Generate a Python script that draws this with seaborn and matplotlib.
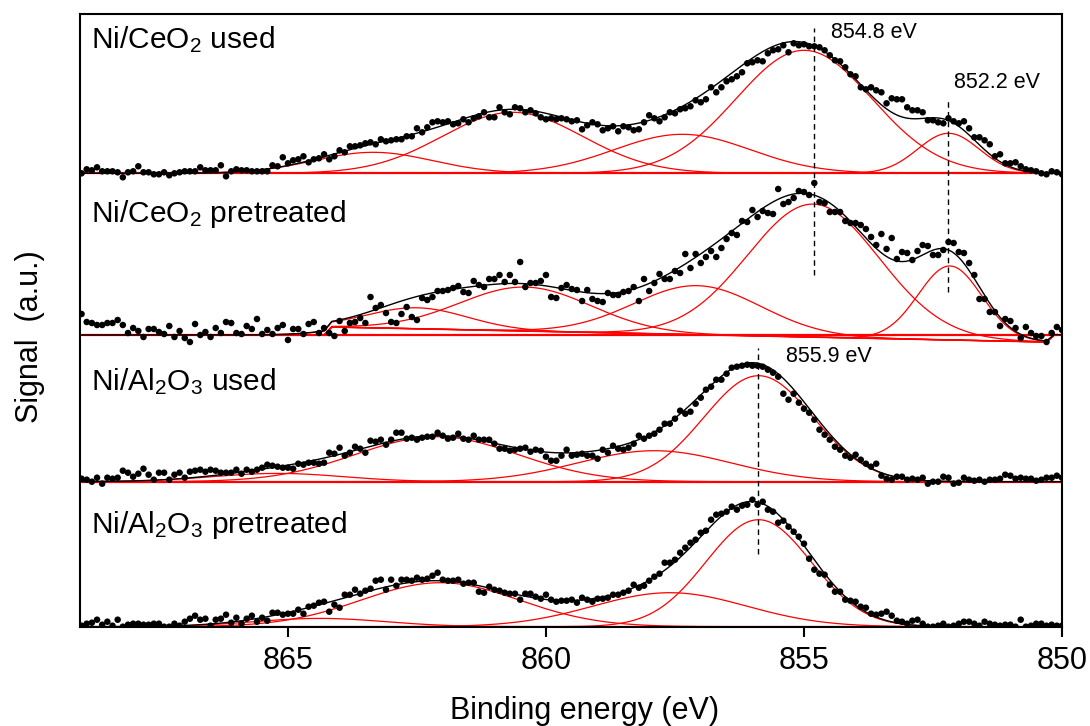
import numpy as np
import pandas as pd
import matplotlib
matplotlib.use('Agg')
import matplotlib.pyplot as plt
import seaborn as sns

# measured grid: 869 -> 850 eV, 0.1 eV step
energy_start, energy_stop, n_points = 869.0, 850.0, 191

# raw Ni 2p3/2 signal (a.u.), one value per grid point
ceo2_used = [0, 4, 3, 6, 2, 2, 2, 1, -4, 1,
             2, 7, 1, 1, -1, -1, 1, -2, 0, 1,
             2, 2, 2, 6, 3, 3, 3, 8, -3, 2,
             4, 3, 3, 2, 2, 2, 2, 8, 7, 16,
             10, 13, 14, 17, 11, 14, 15, 19, 14, 17,
             23, 21, 27, 27, 28, 30, 31, 29, 34, 32,
             33, 34, 34, 37, 37, 45, 41, 46, 51, 52,
             51, 52, 49, 50, 54, 51, 55, 57, 61, 56,
             56, 66, 61, 59, 66, 65, 61, 63, 60, 56,
             54, 55, 54, 55, 54, 52, 53, 44, 48, 51,
             49, 43, 45, 47, 42, 47, 46, 43, 44, 51,
             58, 55, 52, 56, 61, 60, 64, 65, 67, 73,
             71, 74, 86, 81, 86, 92, 94, 97, 101, 110,
             111, 113, 112, 120, 123, 124, 128, 121, 130, 128,
             129, 127, 127, 126, 123, 118, 113, 112, 106, 99,
             97, 86, 84, 86, 83, 81, 70, 75, 74, 74,
             66, 63, 63, 61, 53, 53, 51, 50, 55, 52,
             50, 52, 45, 36, 36, 33, 29, 17, 19, 10,
             10, 11, 7, 4, 3, 2, 0, -1, 2, 1, -1]

ceo2_pre = [21, 13, 12, 10, 10, 12, 12, 15, 10, 2,
            7, 4, -2, 6, 6, 3, 1, 9, -2, 4,
            -3, -7, 11, 0, 3, -2, 7, 2, 13, 12,
            2, 1, 9, 6, 16, 1, 5, 1, 7, 10,
            -5, 6, 6, 1, 11, 13, 2, 7, 2, -1,
            14, 4, 12, 13, 17, 12, 38, 27, 30, 22,
            13, 12, 21, 28, 18, 15, 37, 35, 38, 44,
            44, 45, 47, 49, 43, 42, 54, 50, 48, 56,
            56, 60, 53, 60, 53, 73, 48, 52, 52, 54,
            60, 38, 37, 47, 50, 46, 45, 34, 45, 36,
            34, 33, 42, 40, 40, 43, 44, 48, 34, 56,
            44, 52, 61, 56, 56, 64, 62, 81, 67, 81,
            72, 78, 84, 78, 87, 96, 102, 100, 114, 113,
            125, 118, 124, 122, 121, 146, 131, 133, 137, 144,
            143, 140, 152, 133, 132, 123, 123, 123, 114, 112,
            112, 110, 106, 98, 90, 101, 86, 97, 76, 83,
            82, 75, 84, 90, 89, 80, 80, 85, 93, 92,
            83, 82, 72, 60, 36, 36, 23, 23, 9, 16,
            14, 7, -3, 8, 2, -1, -1, -7, 2, 8, 5]

al2o3_used = [3, 2, 0, 4, -2, 4, 3, 4, 11, 9,
              5, 8, 13, 7, 2, 9, 9, 2, 7, 9,
              4, 10, 11, 12, 10, 12, 11, 9, 9, 9,
              12, 8, 12, 10, 12, 14, 17, 16, 15, 14,
              14, 13, 18, 17, 19, 19, 18, 19, 29, 28,
              34, 26, 29, 35, 33, 29, 41, 40, 42, 37,
              42, 49, 49, 43, 44, 42, 44, 45, 45, 49,
              46, 43, 44, 48, 43, 42, 46, 42, 42, 42,
              38, 33, 33, 31, 32, 33, 34, 30, 32, 31,
              25, 21, 21, 26, 32, 26, 27, 28, 26, 26,
              23, 32, 29, 36, 33, 32, 34, 38, 46, 43,
              46, 48, 52, 58, 58, 63, 71, 68, 70, 78,
              84, 92, 95, 102, 102, 108, 114, 115, 116, 117,
              116, 116, 115, 112, 109, 105, 88, 82, 88, 79,
              73, 69, 62, 52, 47, 42, 35, 32, 26, 24,
              27, 22, 18, 15, 18, 6, 3, 2, 5, 5,
              2, 3, 2, 4, -2, 0, 0, 5, 4, -2,
              -1, 4, 2, 1, 2, 0, 2, 2, 3, 7,
              6, 3, 4, 3, 3, 1, 2, 4, 4, 6, 4]

al2o3_pre = [1, 3, 4, 7, 2, 5, 1, 7, 0, 2,
             3, 3, 2, 2, 3, 3, 0, 0, 3, 1,
             5, 8, 11, 7, 8, 1, 7, 8, 12, 4,
             9, 3, 8, 11, 5, 9, 6, 14, 14, 12,
             13, 13, 17, 13, 20, 21, 24, 25, 15, 22,
             19, 32, 32, 37, 33, 36, 38, 46, 47, 37,
             47, 41, 47, 47, 46, 49, 47, 48, 51, 54,
             47, 46, 46, 47, 43, 44, 44, 35, 34, 40,
             37, 36, 34, 33, 33, 27, 33, 33, 30, 28,
             32, 27, 25, 26, 26, 27, 24, 29, 27, 25,
             28, 28, 29, 32, 32, 34, 36, 42, 39, 41,
             46, 50, 53, 64, 64, 67, 74, 79, 84, 87,
             94, 96, 107, 112, 113, 115, 120, 117, 121, 122,
             127, 122, 125, 117, 115, 104, 106, 100, 95, 90,
             83, 68, 57, 53, 52, 42, 35, 35, 27, 26,
             25, 20, 19, 13, 12, 13, 15, 11, 6, 5,
             3, 6, 7, 3, 0, 0, 1, 3, 0, 1,
             3, 5, 5, 3, 1, 5, 3, 2, 1, 2,
             2, 0, 7, 0, 1, 3, 3, 1, 2, 1, 1]

# fitted components: centre (eV), height (a.u.), FWHM (eV)
ceo2_used_center = [863.35, 860.65, 857.36, 855.0, 852.2]
ceo2_used_height = [21, 61, 39, 123, 40]
ceo2_used_fwhm = [2.7, 3.2, 3.1, 3.1, 1.4]

ceo2_pre_center = [862.5, 860.4, 857.07, 854.82, 852.17]
ceo2_pre_height = [21, 44, 49, 133, 74]
ceo2_pre_fwhm = [2.3, 3.0, 2.9, 3.0, 1.45]

al2o3_used_center = [865.2, 862.12, 857.9, 855.88]
al2o3_used_height = [8.3, 45, 31, 106]
al2o3_used_fwhm = [3.0, 3.7, 3.5, 2.5]

al2o3_pre_center = [864.38, 862.05, 857.6, 855.88]
al2o3_pre_height = [8.3, 44, 34, 107]
al2o3_pre_fwhm = [3.0, 3.6, 3.5, 2.4]

# Shirley-type background of the pretreated CeO2 sample
ceo2_pre_bg_energy = [869.0, 864.3, 864.15, 850.3, 850.15, 850.0]
ceo2_pre_bg_level = [0, 0, 8, -7, 0, 0]
flat_bg_energy = [869.0, 850.0]
flat_bg_level = [0, 0]

labels = ['Ni/CeO$_2$ used', 'Ni/CeO$_2$ pretreated',
          'Ni/Al$_2$O$_3$ used', 'Ni/Al$_2$O$_3$ pretreated']

marker_energy = [854.8, 852.2, 855.9]
marker_text = ['854.8 eV', '852.2 eV', '855.9 eV']

sns.set_theme(style='white')
plt.rcParams['font.family'] = ['Liberation Sans', 'DejaVu Sans']
plt.rcParams['mathtext.fontset'] = 'custom'
plt.rcParams['mathtext.rm'] = 'Liberation Sans'
plt.rcParams['mathtext.it'] = 'Liberation Sans:italic'
plt.rcParams['mathtext.default'] = 'regular'
plt.rcParams['text.color'] = 'black'
plt.rcParams['axes.labelcolor'] = 'black'
plt.rcParams['xtick.color'] = 'black'
plt.rcParams['xtick.labelcolor'] = 'black'

energy = np.linspace(energy_start, energy_stop, n_points)
fine = np.linspace(energy_start, energy_stop, 1901)

fig = plt.figure(figsize=(10.9, 7.26), dpi=100)
ax = fig.add_axes([80 / 1090, 1 - 627 / 726, 982 / 1090, 613 / 726])

panels = [
    (ceo2_used, ceo2_used_center, ceo2_used_height, ceo2_used_fwhm, flat_bg_energy, flat_bg_level),
    (ceo2_pre, ceo2_pre_center, ceo2_pre_height, ceo2_pre_fwhm, ceo2_pre_bg_energy, ceo2_pre_bg_level),
    (al2o3_used, al2o3_used_center, al2o3_used_height, al2o3_used_fwhm, flat_bg_energy, flat_bg_level),
    (al2o3_pre, al2o3_pre_center, al2o3_pre_height, al2o3_pre_fwhm, flat_bg_energy, flat_bg_level),
]
offsets = [453.7, 292.0, 145.3, 0.3]   # vertical stacking
label_y = [579, 405.3, 237, 93.7]

for (dots, cen, hgt, fw, bge, bgl), off, lab, ly in zip(panels, offsets, labels, label_y):
    bg = np.interp(fine, bge[::-1], bgl[::-1])
    total = bg.copy()
    for c, h, w in zip(cen, hgt, fw):
        comp = h * np.exp(-4 * np.log(2) * ((fine - c) / w) ** 2)
        total += comp
        sns.lineplot(x=fine, y=bg + comp + off, color='red', lw=0.9,
                     estimator=None, sort=False, ax=ax, zorder=2)
    # flat baseline across the whole panel
    sns.lineplot(x=flat_bg_energy, y=np.array(flat_bg_level) + off, color='red',
                 lw=1.6, estimator=None, sort=False, ax=ax, zorder=2)
    if bge is not flat_bg_energy:
        sns.lineplot(x=bge, y=np.array(bgl) + off, color='red', lw=1.2,
                     estimator=None, sort=False, ax=ax, zorder=2)
    sns.lineplot(x=fine, y=total + off, color='black', lw=1.0,
                 estimator=None, sort=False, ax=ax, zorder=3)
    df = pd.DataFrame({'energy': energy, 'signal': np.array(dots) + off})
    sns.scatterplot(data=df, x='energy', y='signal', color='black', s=22,
                    edgecolor='none', ax=ax, zorder=4)
    ax.text(868.82, ly, lab, fontsize=21.5, ha='left', va='baseline')

# dashed guides at the peak positions
guide_span = [(352, 599), (335, 527), (73, 279)]
text_shift = [0.33, 0.1, 0.56]
text_y = [595, 545, 270]
for e, t, (y0, y1), dx, ty in zip(marker_energy, marker_text, guide_span, text_shift, text_y):
    ax.vlines(e, y0, y1, colors='black', linestyles=(0, (4, 3)), lw=1.0, zorder=5)
    ax.text(e - dx, ty, t, fontsize=15.5, ha='left', va='center')

ax.set_xlim(869.03, 850)
ax.set_ylim(0, 613)
ax.set_xticks([865, 860, 855, 850])
ax.set_yticks([])
ax.tick_params(axis='x', direction='out', length=7, width=1.5, labelsize=22,
               pad=7, bottom=True, top=False, colors='black')
ax.tick_params(axis='y', left=False, labelleft=False)
for sp in ax.spines.values():
    sp.set_visible(True)
    sp.set_color('black')
    sp.set_linewidth(1.5)

ax.set_xlabel('Binding energy (eV)', fontsize=22, color='black')
ax.set_ylabel('Signal  (a.u.)', fontsize=22, color='black')
ax.xaxis.set_label_coords(0.514, -0.112)
ax.yaxis.set_label_coords(-0.036, 0.473)

fig.savefig('out.png', dpi=100)
